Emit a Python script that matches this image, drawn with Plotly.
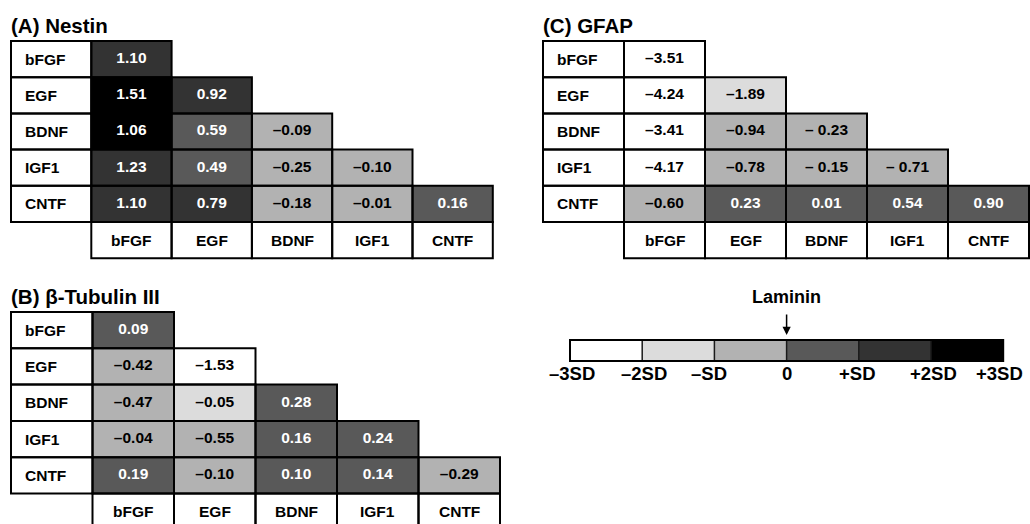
import plotly.graph_objects as go

# ---- data -------------------------------------------------------------
factors = ["bFGF", "EGF", "BDNF", "IGF1", "CNTF"]

# lower-triangular tables: row i holds the combinations with factors[0..i]
nestin_vals = [[1.10],
               [1.51, 0.92],
               [1.06, 0.59, -0.09],
               [1.23, 0.49, -0.25, -0.10],
               [1.10, 0.79, -0.18, -0.01, 0.16]]
# SD bin of each cell relative to laminin (0 = -3SD..-2SD ... 5 = +2SD..+3SD)
nestin_bins = [[4],
               [5, 4],
               [5, 3, 2],
               [4, 3, 2, 2],
               [4, 4, 2, 2, 3]]

tubulin_vals = [[0.09],
                [-0.42, -1.53],
                [-0.47, -0.05, 0.28],
                [-0.04, -0.55, 0.16, 0.24],
                [0.19, -0.10, 0.10, 0.14, -0.29]]
tubulin_bins = [[3],
                [2, 0],
                [2, 1, 3],
                [2, 2, 3, 3],
                [3, 2, 3, 3, 2]]

gfap_vals = [[-3.51],
             [-4.24, -1.89],
             [-3.41, -0.94, -0.23],
             [-4.17, -0.78, -0.15, -0.71],
             [-0.60, 0.23, 0.01, 0.54, 0.90]]
gfap_bins = [[0],
             [0, 1],
             [0, 2, 2],
             [0, 2, 2, 2],
             [2, 3, 3, 3, 3]]
# cells typeset with a space after the minus sign
gfap_spaced = [(2, 2), (3, 2), (3, 3)]

scale_bins = [0, 1, 2, 3, 4, 5]
scale_labels = ["\u20133SD", "\u20132SD", "\u2013SD", "0", "+SD", "+2SD", "+3SD"]

# ---- styling ----------------------------------------------------------
W, H = 1030, 524
FONT = "Liberation Sans, Arial, sans-serif"
CELL_SIZE = 15.5
TITLE_SIZE = 20.5
SCALE_SIZE = 18.5
grays = ["#ffffff", "#dcdcdc", "#b2b2b2", "#595959", "#333333", "#000000"]
colorscale = []
for k, g in enumerate(grays):
    colorscale.append([k / 6, g])
    colorscale.append([(k + 1) / 6, g])

fig = go.Figure()
shapes = []
annotations = []


def axis_ids(i):
    s = "" if i == 1 else str(i)
    return "x" + s, "y" + s, "xaxis" + s, "yaxis" + s


def fmt(v, spaced=False):
    if v < 0:
        return ("\u2013 " if spaced else "\u2013") + f"{abs(v):.2f}"
    return f"{v:.2f}"


def place_axes(i, xl, cw, ncol, yt, rh, nrow, pad=4):
    _, _, xk, yk = axis_ids(i)
    d0 = max(0, xl - pad)
    d1 = min(W, xl + ncol * cw + pad)
    t0 = max(0, yt - pad)
    t1 = min(H, yt + nrow * rh + pad)
    fig.update_layout({
        xk: dict(domain=[d0 / W, d1 / W],
                 range=[(d0 - xl) / cw - 0.5, (d1 - xl) / cw - 0.5],
                 visible=False, fixedrange=True),
        yk: dict(domain=[1 - t1 / H, 1 - t0 / H],
                 range=[(t1 - yt) / rh - 0.5, (t0 - yt) / rh - 0.5],
                 visible=False, fixedrange=True),
    })


def add_panel(i, title, vals, bins, xl, cw, yt, rh, spaced=()):
    xr, yr, _, _ = axis_ids(i)
    place_axes(i, xl, cw, 6, yt, rh, 6)

    n = len(factors)
    z = [[None] * (n + 1) for _ in range(n + 1)]
    tx, ty, tt, tc = [], [], [], []
    for r in range(n):
        for c in range(r + 1):
            z[r][c + 1] = bins[r][c]
            tx.append(c + 1)
            ty.append(r)
            tt.append(fmt(vals[r][c], (r, c) in spaced))
            tc.append("#ffffff" if bins[r][c] >= 3 else "#000000")

    fig.add_trace(go.Heatmap(
        z=z, x=list(range(n + 1)), y=list(range(n + 1)),
        zmin=-0.5, zmax=5.5, colorscale=colorscale, showscale=False,
        hoverinfo="skip", xaxis=xr, yaxis=yr))
    fig.add_trace(go.Scatter(
        x=tx, y=ty, text=tt, mode="text", hoverinfo="skip", showlegend=False,
        textposition="middle center",
        textfont=dict(family=FONT, size=CELL_SIZE, color=tc, weight="bold"),
        xaxis=xr, yaxis=yr))

    # cell borders: row labels, data cells, column labels
    cells = [(r, 0) for r in range(n)]
    cells += [(r, c + 1) for r in range(n) for c in range(r + 1)]
    cells += [(n, c + 1) for c in range(n)]
    for r, c in cells:
        shapes.append(dict(type="rect", xref=xr, yref=yr,
                           x0=c - 0.5, x1=c + 0.5, y0=r - 0.5, y1=r + 0.5,
                           line=dict(color="#000000", width=2),
                           fillcolor="rgba(0,0,0,0)", layer="above"))

    for r, name in enumerate(factors):
        annotations.append(dict(xref=xr, yref=yr, x=-0.5 + 11.5 / cw, y=r,
                                text=name, showarrow=False, xanchor="left",
                                font=dict(family=FONT, size=CELL_SIZE,
                                          weight="bold", color="#000000")))
    for c, name in enumerate(factors):
        annotations.append(dict(xref=xr, yref=yr, x=c + 1, y=n,
                                text=name, showarrow=False,
                                font=dict(family=FONT, size=CELL_SIZE,
                                          weight="bold", color="#000000")))

    annotations.append(dict(xref="paper", yref="paper",
                            x=(xl - 2) / W, y=1 - (yt - 16) / H,
                            xanchor="left", yanchor="middle", showarrow=False,
                            text=title,
                            font=dict(family=FONT, size=TITLE_SIZE,
                                      weight="bold", color="#000000")))


add_panel(1, "(A) Nestin", nestin_vals, nestin_bins, 11, 80.3, 41, 36.2)
add_panel(2, "(B) \u03b2-Tubulin III", tubulin_vals, tubulin_bins, 11, 81.5, 312, 36.3)
add_panel(3, "(C) GFAP", gfap_vals, gfap_bins, 543, 81.0, 41, 36.2, gfap_spaced)

# ---- SD scale bar -----------------------------------------------------
sx, sw, st, sh = 570, 72.2, 340, 21
place_axes(4, sx, sw, 6, st, sh, 1)
fig.add_trace(go.Heatmap(
    z=[scale_bins], x=list(range(len(scale_bins))), y=[0],
    zmin=-0.5, zmax=5.5, colorscale=colorscale, showscale=False,
    hoverinfo="skip", xaxis="x4", yaxis="y4"))
for k in range(1, len(scale_bins)):
    shapes.append(dict(type="line", xref="x4", yref="y4",
                       x0=k - 0.5, x1=k - 0.5, y0=-0.5, y1=0.5,
                       line=dict(color="#1a1a1a", width=1.5), layer="above"))
shapes.append(dict(type="rect", xref="x4", yref="y4",
                   x0=-0.5, x1=len(scale_bins) - 0.5, y0=-0.5, y1=0.5,
                   line=dict(color="#000000", width=2),
                   fillcolor="rgba(0,0,0,0)", layer="above"))

label_px = [572, 644, 709, 787, 857, 933, 999]
for lab, px in zip(scale_labels, label_px):
    annotations.append(dict(xref="x4", yref="paper",
                            x=(px - sx) / sw - 0.5, y=1 - 373 / H,
                            text=lab, showarrow=False, yanchor="middle",
                            font=dict(family=FONT, size=SCALE_SIZE,
                                      weight="bold", color="#000000")))

lam_x = 2.5
annotations.append(dict(xref="x4", yref="paper", x=lam_x, y=1 - 297 / H,
                        text="Laminin", showarrow=False, yanchor="middle",
                        font=dict(family=FONT, size=18,
                                  weight="bold", color="#000000")))
annotations.append(dict(xref="x4", yref="paper", x=lam_x, y=1 - 335 / H,
                        text="", showarrow=True, ax=0, ay=-22,
                        arrowhead=2, arrowsize=1.1, arrowwidth=1.5,
                        arrowcolor="#000000"))

fig.update_layout(
    width=W, height=H,
    margin=dict(l=0, r=0, t=0, b=0),
    paper_bgcolor="#ffffff", plot_bgcolor="rgba(0,0,0,0)",
    showlegend=False,
    shapes=shapes, annotations=annotations,
)

fig.write_html("out.html")
